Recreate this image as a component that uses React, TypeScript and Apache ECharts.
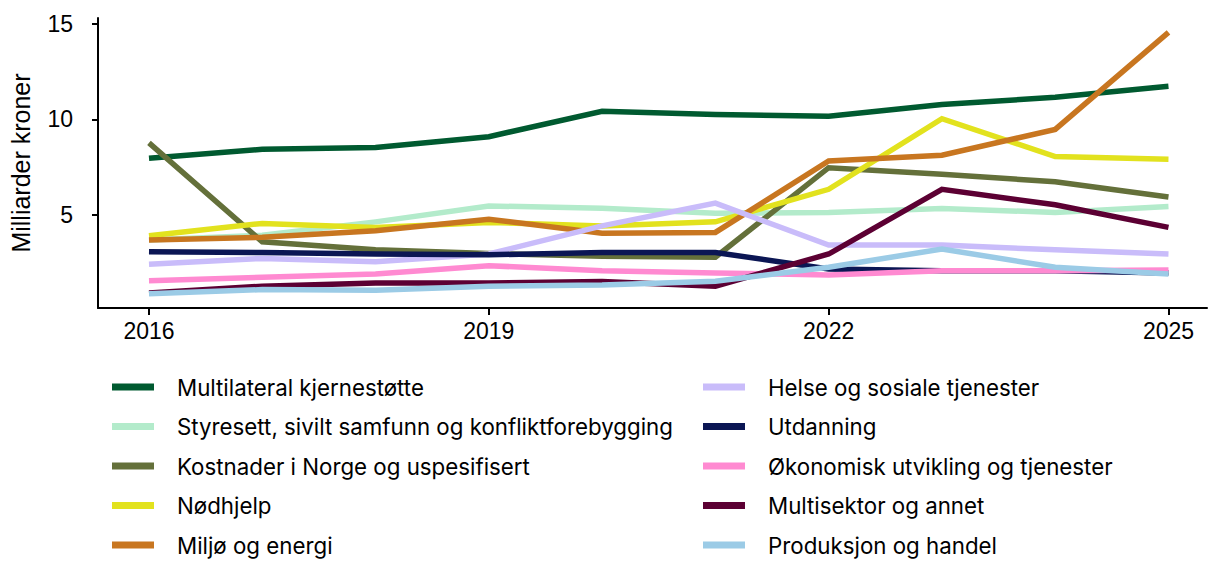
import React, { useEffect, useRef } from "react";
import * as echarts from "echarts";

const years = [2016, 2017, 2018, 2019, 2020, 2021, 2022, 2023, 2024, 2025];
const xTicks = [2016, 2019, 2022, 2025];
const yTicks = [5, 10, 15];

const seriesNames = [
  "Multilateral kjernestøtte",
  "Styresett, sivilt samfunn og konfliktforebygging",
  "Kostnader i Norge og uspesifisert",
  "Nødhjelp",
  "Miljø og energi",
  "Helse og sosiale tjenester",
  "Utdanning",
  "Økonomisk utvikling og tjenester",
  "Multisektor og annet",
  "Produksjon og handel",
];

const colors = [
  "#005a30",
  "#b3ebcb",
  "#64703a",
  "#e2e21e",
  "#c87620",
  "#c9bcfa",
  "#0b1654",
  "#ff8ad1",
  "#5c0033",
  "#9bcbe6",
];

const multilateral = [7.97, 8.44, 8.53, 9.1, 10.43, 10.26, 10.17, 10.78, 11.16, 11.73];
const styresett = [3.7, 3.95, 4.65, 5.48, 5.36, 5.1, 5.14, 5.35, 5.14, 5.45];
const kostnader = [8.78, 3.61, 3.19, 3.0, 2.85, 2.8, 7.48, 7.14, 6.74, 5.95];
const nodhjelp = [3.92, 4.57, 4.36, 4.62, 4.44, 4.65, 6.35, 10.04, 8.06, 7.92];
const miljo = [3.7, 3.84, 4.18, 4.79, 4.05, 4.1, 7.83, 8.13, 9.48, 14.55];
const helse = [2.43, 2.74, 2.57, 2.97, 4.44, 5.63, 3.44, 3.44, 3.19, 2.97];
const utdanning = [3.09, 3.05, 2.97, 2.93, 3.05, 3.05, 2.19, 2.1, 2.1, 1.98];
const okonomisk = [1.58, 1.75, 1.93, 2.36, 2.1, 1.98, 1.88, 2.1, 2.1, 2.14];
const multisektor = [0.94, 1.29, 1.46, 1.46, 1.53, 1.29, 2.97, 6.35, 5.54, 4.36];
const produksjon = [0.89, 1.11, 1.08, 1.29, 1.35, 1.55, 2.28, 3.23, 2.28, 1.93];

const allValues = [
  multilateral,
  styresett,
  kostnader,
  nodhjelp,
  miljo,
  helse,
  utdanning,
  okonomisk,
  multisektor,
  produksjon,
];

const FONT = "'Liberation Sans', Arial, sans-serif";
const LEGEND_FONT = "Inter, 'Liberation Sans', sans-serif";

export default function App() {
  const ref = useRef<HTMLDivElement>(null);

  useEffect(() => {
    if (!ref.current) return;
    const chart = echarts.init(ref.current, null, { renderer: "svg" });

    const series = seriesNames.map((name, i) => ({
      name,
      type: "line",
      data: years.map((y, j) => [y, allValues[i][j]]),
      symbol: "none",
      lineStyle: { width: 5.5, color: colors[i], cap: "butt", join: "miter" },
      itemStyle: { color: colors[i] },
      z: 2 + i,
    }));

    const legendBase = {
      orient: "vertical",
      icon: "rect",
      itemWidth: 42,
      itemHeight: 7,
      itemGap: 17.5,
      padding: 0,
      height: 190,
      textStyle: {
        fontFamily: LEGEND_FONT,
        fontSize: 22.3,
        lineHeight: 22,
        color: "#000",
        padding: [0, 0, 0, 18],
      },
      selectedMode: false,
    };

    chart.setOption({
      animation: false,
      color: colors,
      textStyle: { fontFamily: FONT },
      grid: { left: 98, right: 2, top: 18, bottom: 253, containLabel: false },
      legend: [
        { ...legendBase, left: 112, top: 376, data: seriesNames.slice(0, 5) },
        { ...legendBase, left: 703, top: 376, data: seriesNames.slice(5) },
      ],
      xAxis: {
        type: "value",
        min: 2015.55,
        max: 2025.34,
        splitLine: { show: false },
        axisLine: { show: true, onZero: false, lineStyle: { color: "#000", width: 2 } },
        axisTick: {
          show: true,
          length: 7,
          lineStyle: { color: "#000", width: 2 },
          customValues: xTicks,
        },
        axisLabel: {
          color: "#000",
          fontSize: 23,
          margin: 11,
          fontFamily: FONT,
          customValues: xTicks,
          formatter: (v: number) => String(v),
        },
      },
      yAxis: {
        type: "value",
        min: 0.15,
        max: 15.3,
        name: "Milliarder kroner",
        nameLocation: "middle",
        nameGap: 65,
        nameTextStyle: { color: "#000", fontSize: 25, fontFamily: FONT },
        splitLine: { show: false },
        axisLine: { show: true, lineStyle: { color: "#000", width: 2 } },
        axisTick: {
          show: true,
          length: 6,
          lineStyle: { color: "#000", width: 2 },
          customValues: yTicks,
        },
        axisLabel: {
          color: "#000",
          fontSize: 23,
          margin: 25,
          fontFamily: FONT,
          customValues: yTicks,
        },
      },
      series,
    });

    return () => chart.dispose();
  }, []);

  return (
    <div
      ref={ref}
      style={{ position: "fixed", left: 0, top: 0, width: 1209, height: 561, background: "#fff" }}
    />
  );
}
